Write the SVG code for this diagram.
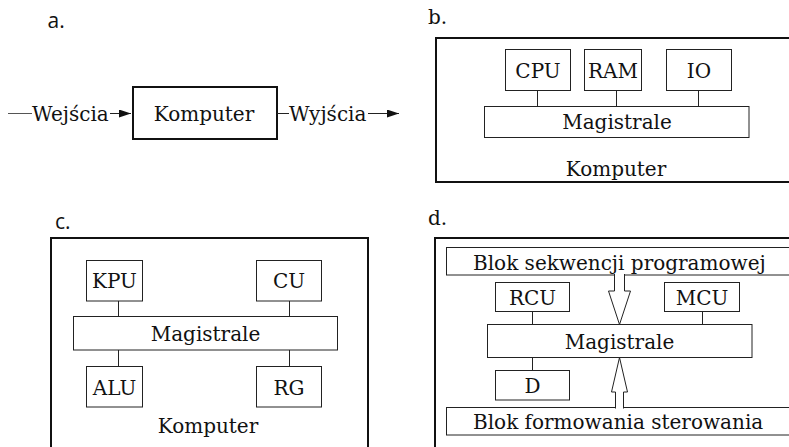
<svg xmlns="http://www.w3.org/2000/svg" width="789" height="447" viewBox="0 0 789 447">
  <style>
    .t { font-family: "DejaVu Serif", "Liberation Serif", serif; font-size: 20px; fill: #111; }
    .m { text-anchor: middle; }
    .lbl { font-family: "Open Sans", "Liberation Sans", sans-serif; fill: #111; }
    .outer { fill: none; stroke: #111; stroke-width: 2; }
    .box { fill: #fff; stroke: #222; stroke-width: 1; }
    .wire { stroke: #222; stroke-width: 1; fill: none; }
    .hollow { fill: #fff; stroke: #222; stroke-width: 1; }
  </style>
  <defs>
    <marker id="head" markerUnits="userSpaceOnUse" markerWidth="12" markerHeight="8" refX="12" refY="4" orient="auto">
      <path d="M0,0 L12,4 L0,8 z" fill="#111"/>
    </marker>
  </defs>

  <!-- panel labels -->
  <text class="lbl" x="47.5" y="28" font-size="21">a.</text>
  <text class="t" x="428" y="24">b.</text>
  <text class="lbl" x="55" y="228.5" font-size="21">c.</text>
  <text class="t" x="428" y="225">d.</text>

  <!-- a: computer as a black box -->
  <g id="a-komputer">
    <rect class="outer" x="133" y="87" width="144" height="52"/>
    <text class="t m" x="204" y="121">Komputer</text>
  </g>
  <g id="a-connectors">
    <line x1="8" y1="113.5" x2="32" y2="113.5" stroke="#555" stroke-width="1"/>
    <text class="t" x="32" y="120.5">Wejścia</text>
    <line class="wire" x1="110" y1="113.5" x2="131" y2="113.5" marker-end="url(#head)"/>
    <line class="wire" x1="277" y1="113.5" x2="289" y2="113.5"/>
    <text class="t" x="289" y="120.5">Wyjścia</text>
    <line class="wire" x1="368" y1="113.5" x2="399" y2="113.5" marker-end="url(#head)"/>
  </g>

  <!-- b: CPU / RAM / IO on a bus -->
  <g id="b-komputer">
    <rect class="outer" x="436" y="38" width="400" height="144"/>
    <text class="t m" x="616" y="175.5">Komputer</text>
  </g>
  <g id="b-connectors">
    <line class="wire" x1="537.5" y1="90.5" x2="537.5" y2="106.5"/>
    <line class="wire" x1="616.5" y1="90.5" x2="616.5" y2="106.5"/>
    <line class="wire" x1="698.5" y1="90.5" x2="698.5" y2="106.5"/>
  </g>
  <g id="b-cpu">
    <rect class="box" x="505.5" y="49.5" width="65" height="41"/>
    <text class="t m" x="538" y="77.5">CPU</text>
  </g>
  <g id="b-ram">
    <rect class="box" x="584.5" y="49.5" width="57" height="41"/>
    <text class="t m" x="613" y="77.5">RAM</text>
  </g>
  <g id="b-io">
    <rect class="box" x="666.5" y="49.5" width="65" height="41"/>
    <text class="t m" x="699" y="77.5">IO</text>
  </g>
  <g id="b-magistrale">
    <rect class="box" x="484.5" y="106.5" width="264.5" height="31"/>
    <text class="t m" x="617" y="129">Magistrale</text>
  </g>

  <!-- c: KPU / CU / ALU / RG on a bus -->
  <g id="c-komputer">
    <rect class="outer" x="51" y="238" width="317" height="260"/>
    <text class="t m" x="208" y="433">Komputer</text>
  </g>
  <g id="c-connectors">
    <line class="wire" x1="118.5" y1="301" x2="118.5" y2="316.5"/>
    <line class="wire" x1="289.5" y1="301" x2="289.5" y2="316.5"/>
    <line class="wire" x1="118.5" y1="350" x2="118.5" y2="366.5"/>
    <line class="wire" x1="289.5" y1="350" x2="289.5" y2="366.5"/>
  </g>
  <g id="c-kpu">
    <rect class="box" x="86.5" y="260.5" width="56" height="40.5"/>
    <text class="t m" x="114.5" y="288">KPU</text>
  </g>
  <g id="c-cu">
    <rect class="box" x="256.5" y="260.5" width="65" height="40.5"/>
    <text class="t m" x="289" y="288">CU</text>
  </g>
  <g id="c-magistrale">
    <rect class="box" x="73.5" y="316.5" width="264" height="33.5"/>
    <text class="t m" x="205.5" y="341">Magistrale</text>
  </g>
  <g id="c-alu">
    <rect class="box" x="86.5" y="366.5" width="56" height="40.5"/>
    <text class="t m" x="114.5" y="394.5">ALU</text>
  </g>
  <g id="c-rg">
    <rect class="box" x="256.5" y="366.5" width="65" height="40.5"/>
    <text class="t m" x="289" y="394.5">RG</text>
  </g>

  <!-- d: control blocks around the bus -->
  <g id="d-komputer">
    <rect class="outer" x="435" y="238" width="400" height="260"/>
  </g>
  <g id="d-sekwencja">
    <rect class="box" x="446.5" y="247.5" width="400" height="27.5"/>
    <text class="t" x="473" y="269.5">Blok sekwencji programowej</text>
  </g>
  <g id="d-formowanie">
    <rect class="box" x="446.5" y="407.5" width="400" height="27.5"/>
    <text class="t" x="473" y="429">Blok formowania sterowania</text>
  </g>
  <g id="d-rcu">
    <rect class="box" x="495.5" y="282.5" width="74" height="29"/>
    <text class="t m" x="532.5" y="304.5">RCU</text>
  </g>
  <g id="d-mcu">
    <rect class="box" x="664.5" y="282.5" width="75" height="29"/>
    <text class="t m" x="702" y="304.5">MCU</text>
  </g>
  <g id="d-magistrale">
    <rect class="box" x="487.5" y="324.5" width="264.5" height="33"/>
    <text class="t m" x="619.5" y="348.5">Magistrale</text>
  </g>
  <g id="d-d">
    <rect class="box" x="495.5" y="370.5" width="74" height="29.5"/>
    <text class="t m" x="532.5" y="392.5">D</text>
  </g>
  <g id="d-connectors">
    <line class="wire" x1="532.5" y1="311.5" x2="532.5" y2="324.5"/>
    <line class="wire" x1="702.5" y1="311.5" x2="702.5" y2="324.5"/>
    <line class="wire" x1="532.5" y1="357.5" x2="532.5" y2="370.5"/>
    <path class="hollow" d="M614.5,274 V291 H608.5 L619.5,324.5 L630.5,291 H624.5 V274"/>
    <path class="hollow" d="M615.5,408.5 V392 H611.5 L619.5,357.5 L627.5,392 H623.5 V408.5"/>
  </g>
</svg>
